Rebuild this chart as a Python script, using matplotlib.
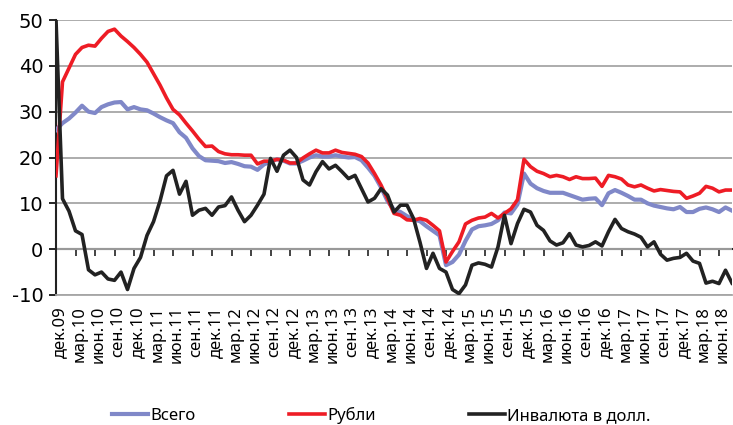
import matplotlib
matplotlib.use('Agg')
from matplotlib import pyplot as plt
from matplotlib import transforms

plt.rcParams['font.family'] = ['Noto Sans', 'DejaVu Sans']
plt.rcParams['axes.unicode_minus'] = False

# помесячные данные, дек.09 - авг.18
vsego = [26, 27.5, 28.5, 29.8, 31.3, 30, 29.7, 31, 31.6, 32,
         32.1, 30.5, 31, 30.5, 30.3, 29.6, 28.8, 28.1, 27.5, 25.5,
         24.3, 22, 20.3, 19.4, 19.3, 19.2, 18.8, 19, 18.6, 18.1,
         18, 17.3, 18.5, 19.1, 19.6, 19.3, 18.7, 18.7, 19.3, 20,
         20.5, 20.2, 20.2, 20.5, 20.2, 20, 20.1, 19.4, 17.8, 16,
         13.5, 10.5, 8.6, 8.1, 7.2, 6.5, 6.1, 5, 4, 3,
         -3.5, -2.8, -1.2, 1.8, 4.3, 5, 5.2, 5.5, 6.3, 8,
         7.8, 9.8, 16.5, 14.3, 13.3, 12.7, 12.3, 12.3, 12.3, 11.8,
         11.3, 10.8, 11, 11.1, 9.6, 12.2, 12.9, 12.3, 11.6, 10.8,
         10.8, 10, 9.5, 9.2, 8.9, 8.7, 9.2, 8.1, 8.1, 8.8,
         9.1, 8.7, 8.1, 9.1, 8.4]

rubli = [16, 36.5, 39.5, 42.5, 44, 44.5, 44.3, 46, 47.5, 48,
         46.5, 45.3, 44, 42.5, 40.8, 38.3, 35.8, 33, 30.5, 29.3,
         27.5, 25.8, 24, 22.4, 22.5, 21.3, 20.8, 20.6, 20.6, 20.5,
         20.5, 18.6, 19.2, 19.2, 19.6, 19.4, 18.8, 18.8, 19.9, 20.8,
         21.6, 21, 21, 21.6, 21.1, 20.9, 20.7, 20.2, 18.8, 16.5,
         14, 11, 7.8, 7.4, 6.4, 6.3, 6.7, 6.3, 5.2, 4,
         -2.8, -0.5, 1.6, 5.5, 6.3, 6.8, 7, 7.8, 6.8, 7.8,
         8.8, 10.8, 19.6, 18, 17, 16.5, 15.8, 16.1, 15.8, 15.2,
         15.8, 15.4, 15.4, 15.5, 13.7, 16.1, 15.8, 15.3, 14, 13.6,
         14, 13.3, 12.7, 13, 12.8, 12.6, 12.5, 11.1, 11.6, 12.2,
         13.7, 13.3, 12.5, 12.9, 12.9]

invaluta = [50, 11, 8.3, 4, 3.2, -4.5, -5.6, -5, -6.5, -6.8,
            -5, -8.8, -4.2, -1.8, 3, 6, 10.5, 16, 17.2, 12,
            14.8, 7.4, 8.5, 8.9, 7.4, 9.2, 9.5, 11.4, 8.5, 6,
            7.4, 9.6, 12, 19.8, 17, 20.5, 21.6, 20, 15.1, 14,
            16.9, 19.1, 17.5, 18.3, 16.9, 15.4, 16.1, 13.2, 10.3, 11.1,
            13.2, 11.8, 8.1, 9.6, 9.6, 6.7, 1.5, -4.2, -0.9, -4.2,
            -5, -8.8, -9.7, -7.8, -3.5, -3, -3.3, -3.9, 0.5, 7.4,
            1.2, 5.6, 8.7, 8.1, 5.2, 4.1, 1.8, 0.9, 1.4, 3.4,
            0.9, 0.5, 0.8, 1.6, 0.7, 3.8, 6.5, 4.5, 3.8, 3.3,
            2.6, 0.5, 1.6, -1.1, -2.4, -2, -1.8, -0.9, -2.6, -3.1,
            -7.4, -7, -7.5, -4.6, -7.4]

tick_labels = ['дек.09', 'мар.10', 'июн.10', 'сен.10', 'дек.10', 'мар.11', 'июн.11',
               'сен.11', 'дек.11', 'мар.12', 'июн.12', 'сен.12', 'дек.12', 'мар.13',
               'июн.13', 'сен.13', 'дек.13', 'мар.14', 'июн.14', 'сен.14', 'дек.14',
               'мар.15', 'июн.15', 'сен.15', 'дек.15', 'мар.16', 'июн.16', 'сен.16',
               'дек.16', 'мар.17', 'июн.17', 'сен.17', 'дек.17', 'мар.18', 'июн.18']

x = list(range(len(vsego)))
ticks = x[::3]

fig = plt.figure(figsize=(7.33, 4.25), dpi=100)
ax = fig.add_axes([56 / 733, 1 - 295 / 425, 676 / 733, 275 / 425])

ax.plot(x, vsego, color='#8088c8', lw=3.0, label='Всего', zorder=3)
ax.plot(x, rubli, color='#ee1c25', lw=2.6, label='Рубли', zorder=4)
ax.plot(x, invaluta, color='#222222', lw=2.6, label='Инвалюта в долл.', zorder=5)

ax.set_xlim(0, len(x) - 1)
ax.set_ylim(-10, 50)
ax.set_yticks(range(-10, 51, 10))
ax.yaxis.grid(True, color='#a6a6a6', lw=1.3)
ax.set_axisbelow(True)

for s in ['top', 'right']:
    ax.spines[s].set_visible(False)
ax.spines['bottom'].set_color('#a6a6a6')
ax.spines['bottom'].set_linewidth(1.3)
ax.spines['left'].set_color('#222222')
ax.spines['left'].set_linewidth(1.5)
ax.tick_params(axis='y', length=5, width=1.2, pad=4)
for lab in ax.get_yticklabels():
    lab.set_fontfamily('DejaVu Sans')
    lab.set_fontsize(14)

ax.set_xticks(ticks)
ax.set_xticklabels(tick_labels, rotation=90, fontsize=12)
ax.tick_params(axis='x', length=0, pad=8)
off = transforms.ScaledTranslation(4 / 100, 0, fig.dpi_scale_trans)
for lab in ax.get_xticklabels():
    lab.set_transform(lab.get_transform() + off)

# нулевая ось с засечками
zero = ax.secondary_xaxis(1 / 6)
zero.set_xticks(ticks)
zero.set_xticklabels([])
zero.tick_params(length=5, width=1.2, color='#222222', direction='out')
zero.spines['bottom'].set_color('#222222')
zero.spines['bottom'].set_linewidth(1.5)

fig.legend(loc='center', bbox_to_anchor=(0.52, 0.022), ncol=3, frameon=False,
           fontsize=12, handlelength=2.2, handletextpad=0.1, columnspacing=5.6)

plt.savefig('out.png', dpi=100)
